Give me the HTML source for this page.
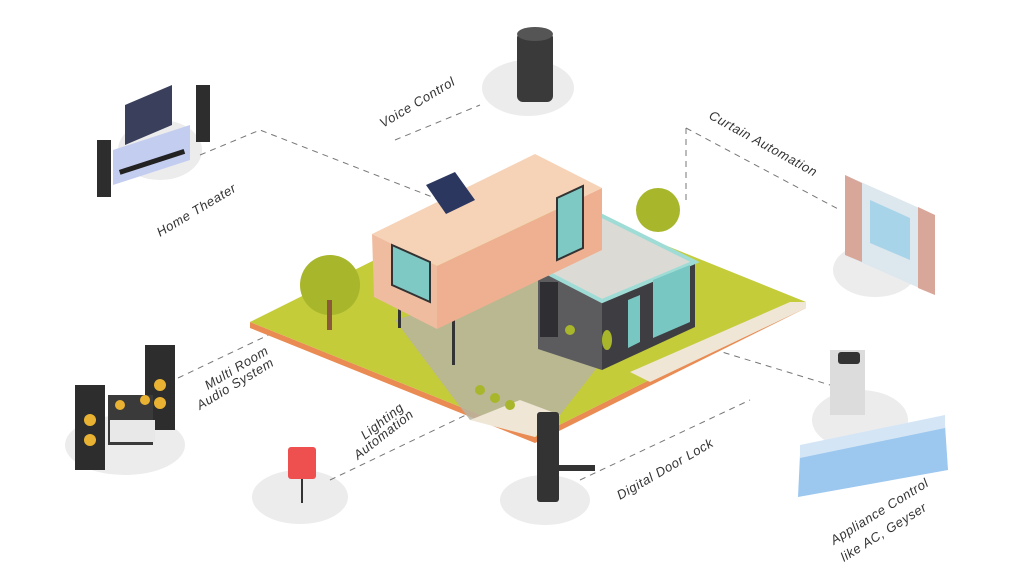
<!DOCTYPE html>
<html><head><style>
html,body{margin:0;padding:0;background:#fff;}
svg{display:block;}
text{font-family:"Liberation Sans",sans-serif;font-style:italic;font-size:13px;fill:#333;letter-spacing:0.6px;}
</style></head><body>
<svg width="1024" height="567" viewBox="0 0 1024 567">
<g fill="#ececec">
<ellipse cx="160" cy="150" rx="42" ry="30"/>
<ellipse cx="528" cy="88" rx="46" ry="28"/>
<ellipse cx="875" cy="270" rx="42" ry="27"/>
<ellipse cx="860" cy="420" rx="48" ry="30"/>
<ellipse cx="125" cy="445" rx="60" ry="30"/>
<ellipse cx="300" cy="497" rx="48" ry="27"/>
<ellipse cx="545" cy="500" rx="45" ry="25"/>
</g>
<g stroke="#777" stroke-width="1" stroke-dasharray="6,5" fill="none">
<polyline points="200,155 260,130 440,200"/>
<polyline points="395,140 480,105"/>
<polyline points="686,128 686,200"/>
<polyline points="686,128 840,210"/>
<polyline points="178,378 300,320 440,300"/>
<polyline points="330,480 560,370"/>
<polyline points="580,480 750,400"/>
<polyline points="650,330 830,385"/>
</g>
<polygon points="250,322 535,437 535,443 250,328" fill="#e98b52"/>
<polygon points="535,437 806,302 806,308 535,443" fill="#e98b52"/>
<polygon points="250,322 521,187 806,302 535,437" fill="#c4cc3a"/>
<polygon points="395,320 560,270 650,300 560,415 470,420" fill="#b7b4a0" opacity="0.85"/>
<polygon points="630,372 790,302 806,302 806,308 650,382" fill="#efe6d6"/>
<polygon points="470,420 520,400 560,415 535,437" fill="#efe6d6"/>
<circle cx="330" cy="285" r="30" fill="#a8b62c"/>
<rect x="327" y="300" width="5" height="30" fill="#8a5a3a"/>
<circle cx="658" cy="210" r="22" fill="#a8b62c"/>
<polygon points="538,268 602,301 602,370 538,349" fill="#5c5c5e"/>
<polygon points="602,301 695,262 695,327 602,370" fill="#3e3e42"/>
<polygon points="538,268 588,209 695,262 602,301" fill="#dcdad5"/>
<polygon points="538,268 588,209 695,262 602,301" fill="none" stroke="#9fdcd6" stroke-width="4"/>
<rect x="540" y="282" width="18" height="55" fill="#2e2e33"/>
<polygon points="653,280 690,265 690,322 653,338" fill="#78c7c3"/>
<polygon points="628,300 640,295 640,342 628,348" fill="#78c7c3"/>
<rect x="398" y="300" width="3" height="28" fill="#333"/>
<rect x="452" y="320" width="3" height="45" fill="#333"/>
<polygon points="372,234 437,266 437,329 374,297" fill="#f0bca0"/>
<polygon points="437,266 602,188 602,250 437,329" fill="#eeb090"/>
<polygon points="372,234 535,154 602,188 437,266" fill="#f6d2b7"/>
<polygon points="392,245 430,262 430,302 392,285" fill="#7ec9c4" stroke="#333" stroke-width="2"/>
<polygon points="557,198 583,186 583,248 557,260" fill="#7ec9c4" stroke="#333" stroke-width="2"/>
<polygon points="426,185 455,172 475,200 446,214" fill="#2c3760"/>
<g fill="#a8b62c"><circle cx="480" cy="390" r="5"/><circle cx="495" cy="398" r="5"/><circle cx="510" cy="405" r="5"/><circle cx="570" cy="330" r="5"/><ellipse cx="607" cy="340" rx="5" ry="10"/></g>
<polygon points="113,150 190,125 190,160 113,185" fill="#c3cdf0"/>
<rect x="118" y="160" width="68" height="5" fill="#222" transform="rotate(-18 150 162)"/>
<polygon points="125,105 172,85 172,125 125,145" fill="#3a3f5c"/>
<rect x="97" y="140" width="14" height="57" fill="#2d2d2d"/>
<rect x="196" y="85" width="14" height="57" fill="#2d2d2d"/>
<rect x="517" y="32" width="36" height="70" rx="6" fill="#3a3a3a"/>
<ellipse cx="535" cy="34" rx="18" ry="7" fill="#555"/>
<polygon points="845,175 935,215 935,295 845,255" fill="#dde7ee"/>
<polygon points="845,175 862,183 862,262 845,255" fill="#d9a799"/>
<polygon points="918,207 935,215 935,295 918,288" fill="#d9a799"/>
<polygon points="870,200 910,218 910,260 870,243" fill="#a8d4ea"/>
<rect x="830" y="350" width="35" height="65" fill="#dcdcdc"/>
<rect x="838" y="352" width="22" height="12" rx="3" fill="#333"/>
<polygon points="800,455 945,425 948,470 798,497" fill="#9cc7ef"/>
<polygon points="800,445 945,415 945,428 800,458" fill="#d4e6f6"/>
<rect x="537" y="412" width="22" height="90" rx="3" fill="#333"/>
<rect x="555" y="465" width="40" height="6" fill="#333"/>
<rect x="288" y="447" width="28" height="32" rx="3" fill="#ee5050"/>
<rect x="301" y="479" width="2" height="24" fill="#333"/>
<rect x="75" y="385" width="30" height="85" fill="#2d2d2d"/>
<rect x="145" y="345" width="30" height="85" fill="#2d2d2d"/>
<rect x="108" y="395" width="45" height="50" fill="#3a3a3a"/>
<rect x="110" y="420" width="45" height="22" fill="#e8e8e8"/>
<g fill="#e9b232"><circle cx="90" cy="420" r="6"/><circle cx="90" cy="440" r="6"/><circle cx="160" cy="385" r="6"/><circle cx="160" cy="403" r="6"/><circle cx="120" cy="405" r="5"/><circle cx="145" cy="400" r="5"/></g>
<text transform="translate(160,237) rotate(-31)">Home Theater</text>
<text transform="translate(383,128) rotate(-31)">Voice Control</text>
<text transform="translate(708,118) rotate(29)">Curtain Automation</text>
<text transform="translate(208,390) rotate(-31)">Multi Room</text>
<text transform="translate(200,410) rotate(-31)">Audio System</text>
<text transform="translate(365,440) rotate(-38)">Lighting</text>
<text transform="translate(358,460) rotate(-38)">Automation</text>
<text transform="translate(620,500) rotate(-30)">Digital Door Lock</text>
<text transform="translate(834,545) rotate(-32)">Appliance Control</text>
<text transform="translate(844,562) rotate(-32)">like AC, Geyser</text>
</svg>
</body></html>
